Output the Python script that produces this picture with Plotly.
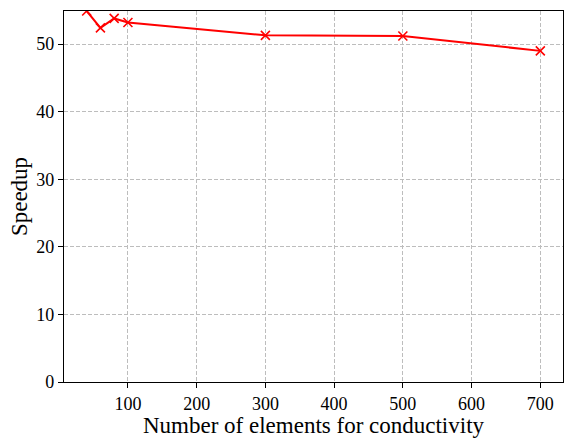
import plotly.graph_objects as go

# Speedup versus number of conductivity elements
n_elements = [40, 60, 80, 100, 300, 500, 700]
speedup = [54.9, 52.4, 53.8, 53.2, 51.3, 51.2, 49.0]

FONT = "Liberation Serif"

fig = go.Figure()
fig.add_trace(go.Scatter(
    x=n_elements, y=speedup,
    mode="lines+markers",
    line=dict(color="#ff0000", width=2),
    marker=dict(symbol="x-thin", size=9, color="#ff0000",
                line=dict(color="#ff0000", width=1.6)),
    showlegend=False,
))

axis_common = dict(
    showline=True, linecolor="black", linewidth=1.2, mirror=True,
    ticks="outside", ticklen=5, tickwidth=1.1, tickcolor="black",
    showgrid=True, gridcolor="#bdbdbd", griddash="4px,2px", gridwidth=1,
    zeroline=False,
    tickfont=dict(family=FONT, size=18, color="black"),
)

fig.update_layout(
    width=565, height=438,
    margin=dict(l=64, r=2, t=11, b=56),
    plot_bgcolor="white", paper_bgcolor="white",
    xaxis=dict(
        range=[7, 733], tickvals=[100, 200, 300, 400, 500, 600, 700],
        title=dict(text="Number of elements for conductivity",
                   font=dict(family=FONT, size=23, color="black"), standoff=3),
        **axis_common,
    ),
    yaxis=dict(
        range=[0, 54.9], tickvals=[0, 10, 20, 30, 40, 50],
        title=dict(text="Speedup",
                   font=dict(family=FONT, size=23, color="black"), standoff=2),
        **axis_common,
    ),
)

fig.write_html("out.html")
